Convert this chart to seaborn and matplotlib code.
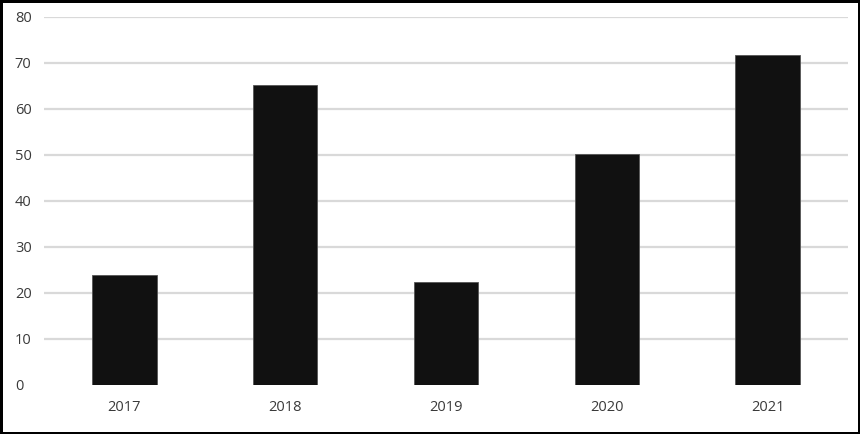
import matplotlib
matplotlib.use("Agg")
import matplotlib.pyplot as plt
import seaborn as sns
import pandas as pd

# values
years = ["2017", "2018", "2019", "2020", "2021"]
values = [24, 65.3, 22.4, 50.3, 71.8]
y_ticks = [0, 10, 20, 30, 40, 50, 60, 70, 80]

df = pd.DataFrame({"year": years, "value": values})

sns.set_style("white")
plt.rcParams["font.family"] = ["Open Sans", "DejaVu Sans"]

fig = plt.figure(figsize=(8.6, 4.34), dpi=100)
fig.patch.set_edgecolor("black")
fig.patch.set_linewidth(2.5)
ax = fig.add_axes([44 / 860, 49 / 434, 804 / 860, 368 / 434])

sns.barplot(data=df, x="year", y="value", color="#111111", width=0.4,
            saturation=1, edgecolor="#555555", linewidth=0.6, ax=ax)

ax.set_xlim(-0.5, 4.5)
ax.set_ylim(0, 80)
ax.set_yticks(y_ticks)
ax.yaxis.grid(True, color="#d9d9d9", linewidth=1.6)
ax.set_axisbelow(True)
# no gridline at the baseline
ax.yaxis.get_gridlines()[0].set_visible(False)
for s in ax.spines.values():
    s.set_visible(False)
ax.set_xlabel("")
ax.set_ylabel("")
ax.tick_params(axis="both", length=0, labelsize=10.5, colors="#3a3a3a")
ax.tick_params(axis="y", pad=21)
ax.tick_params(axis="x", pad=11)
for lbl in ax.get_yticklabels():
    lbl.set_horizontalalignment("left")

fig.savefig("out.png", dpi=100)
